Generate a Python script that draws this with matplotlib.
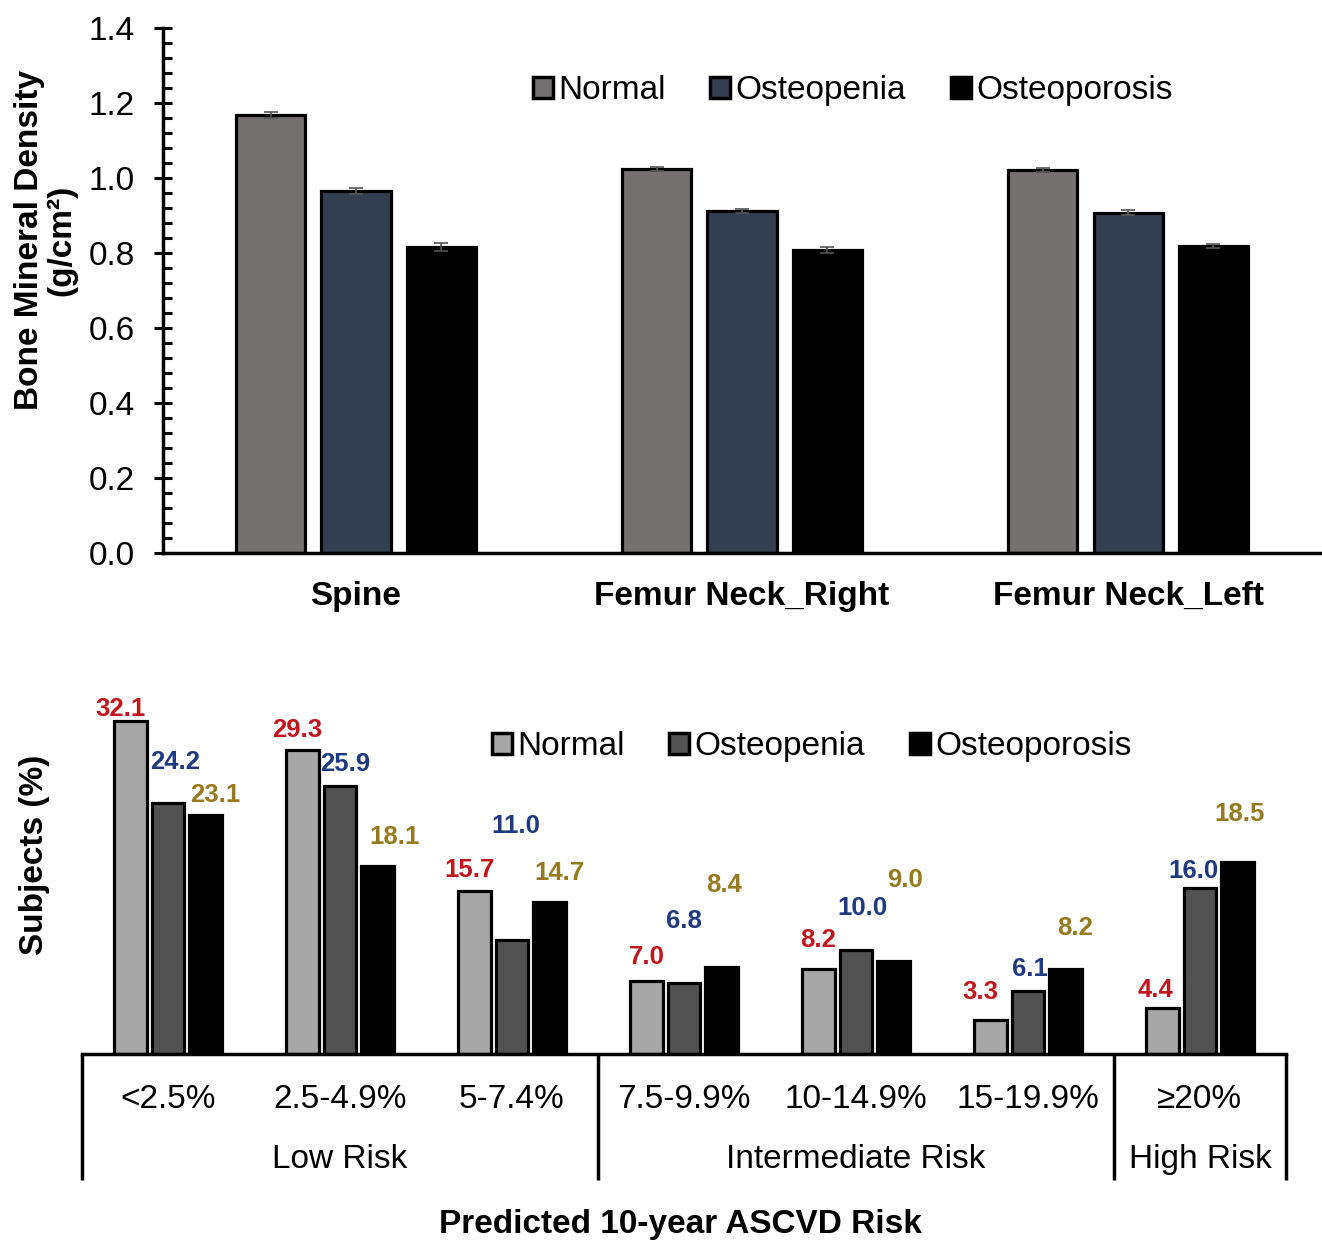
import numpy as np
import matplotlib.pyplot as plt
from matplotlib.patches import Patch
from matplotlib.ticker import MultipleLocator
import matplotlib.transforms as mtrans

plt.rcParams['font.family'] = ['Liberation Sans', 'DejaVu Sans']

# ---- top panel data: bone mineral density ----
sites = ['Spine', 'Femur Neck_Right', 'Femur Neck_Left']
groups = ['Normal', 'Osteopenia', 'Osteoporosis']
bmd_normal = [1.168, 1.024, 1.021]
bmd_osteopenia = [0.965, 0.912, 0.907]
bmd_osteoporosis = [0.816, 0.808, 0.818]
bmd_err_normal = [0.007, 0.006, 0.006]
bmd_err_osteopenia = [0.007, 0.006, 0.007]
bmd_err_osteoporosis = [0.010, 0.007, 0.006]

# ---- bottom panel data: ASCVD risk distribution ----
risk_bins = ['<2.5%', '2.5-4.9%', '5-7.4%', '7.5-9.9%', '10-14.9%', '15-19.9%', '\u226520%']
risk_cats = ['Low Risk', 'Intermediate Risk', 'High Risk']
risk_cat_span = [(0, 2), (3, 5), (6, 6)]
pct_normal = [32.1, 29.3, 15.7, 7.0, 8.2, 3.3, 4.4]
pct_osteopenia = [24.2, 25.9, 11.0, 6.8, 10.0, 6.1, 16.0]
pct_osteoporosis = [23.1, 18.1, 14.7, 8.4, 9.0, 8.2, 18.5]

# hand placed value labels (x shift from bar centre, label height in %)
lab_dx_normal = [-0.06, -0.03, -0.03, 0.0, 0.0, -0.06, -0.04]
lab_dx_osteopenia = [0.04, 0.03, 0.02, 0.0, 0.035, 0.01, -0.04]
lab_dx_osteoporosis = [0.055, 0.10, 0.06, 0.015, 0.07, 0.055, 0.015]
lab_y_normal = [33.3, 31.3, 17.8, 9.4, 11.0, 6.0, 6.2]
lab_y_osteopenia = [28.2, 28.0, 22.0, 12.8, 14.1, 8.2, 17.7]
lab_y_osteoporosis = [25.0, 20.9, 17.5, 16.3, 16.8, 12.2, 23.2]

top_colors = ['#767171', '#333F50', '#000000']
bot_colors = ['#A6A6A6', '#525252', '#000000']
lab_colors = ['#C0161E', '#1F3A80', '#977A1E']

fig = plt.figure(figsize=(13.22, 12.43), dpi=100)

# ================= top panel =================
ax1 = fig.add_axes([0.1233, 0.5551, 0.876, 0.4224])
x = np.arange(len(sites))
w = 0.179
step = 0.221
top_vals = [bmd_normal, bmd_osteopenia, bmd_osteoporosis]
top_errs = [bmd_err_normal, bmd_err_osteopenia, bmd_err_osteoporosis]
for k in range(3):
    ax1.bar(x + (k - 1) * step, top_vals[k], w, color=top_colors[k],
            edgecolor='black', linewidth=2.3, yerr=top_errs[k],
            error_kw=dict(ecolor='#555555', elinewidth=1.2, capsize=5, capthick=1.2),
            zorder=2)

ax1.set_xlim(-0.5, 2.5)
ax1.set_ylim(0, 1.4)
ax1.yaxis.set_major_locator(MultipleLocator(0.2))
ax1.yaxis.set_minor_locator(MultipleLocator(0.04))
ax1.yaxis.set_major_formatter(plt.FuncFormatter(lambda v, p: f'{v:.1f}'))
for s in ['top', 'right']:
    ax1.spines[s].set_visible(False)
for s in ['left', 'bottom']:
    ax1.spines[s].set_linewidth(2.5)
ax1.tick_params(axis='y', which='major', direction='inout', length=13, width=2.2,
                labelsize=24, pad=14)
ax1.tick_params(axis='y', which='minor', direction='in', length=6.5, width=2.2)
ax1.set_xticks(x)
ax1.set_xticklabels(sites, fontsize=24, fontweight='bold')
ax1.tick_params(axis='x', length=0, pad=20)

fig.text(46 / 1322, 0.807, 'Bone Mineral Density\n(g/cm\u00b2)', rotation=90,
         ha='center', va='center', multialignment='center', fontsize=24,
         fontweight='bold', linespacing=1.05)

h1 = [Patch(facecolor=c, edgecolor='black', linewidth=2.5) for c in top_colors]
fig.legend(h1, groups, loc='center', bbox_to_anchor=(0.645, 0.927), ncol=3,
           frameon=False, fontsize=24, handlelength=0.6, handleheight=0.6,
           handletextpad=0.15, columnspacing=1.35)

# ================= bottom panel =================
ax2 = fig.add_axes([0.062, 0.1521, 0.9107, 0.3009])
xb = np.arange(len(risk_bins))
wb = 0.19
stepb = 0.218
bot_vals = [pct_normal, pct_osteopenia, pct_osteoporosis]
lab_dx = [lab_dx_normal, lab_dx_osteopenia, lab_dx_osteoporosis]
lab_y = [lab_y_normal, lab_y_osteopenia, lab_y_osteoporosis]
for k in range(3):
    xs = xb + (k - 1) * stepb
    ax2.bar(xs, bot_vals[k], wb, color=bot_colors[k], edgecolor='black',
            linewidth=2.3, zorder=2)
    for i, v in enumerate(bot_vals[k]):
        ax2.text(xs[i] + lab_dx[k][i], lab_y[k][i], f'{v:.1f}', ha='center',
                 va='center', fontsize=18.5, fontweight='bold', color=lab_colors[k])

ax2.set_xlim(-0.5, 6.5)
ax2.set_ylim(0, 36.1)
for s in ['top', 'right', 'left']:
    ax2.spines[s].set_visible(False)
ax2.spines['bottom'].set_linewidth(2.5)
ax2.set_yticks([])
ax2.set_xticks(xb)
ax2.set_xticklabels(risk_bins, fontsize=24)
ax2.tick_params(axis='x', length=0, pad=22)

trans = mtrans.blended_transform_factory(ax2.transData, ax2.transAxes)
seps = [-0.5, 2.5, 5.5, 6.5]
for sx in seps:
    ax2.plot([sx, sx], [0, -0.337], transform=trans, color='black', lw=2.5,
             clip_on=False, solid_capstyle='butt')
for name, (a, b) in zip(risk_cats, risk_cat_span):
    ax2.text((a + b) / 2, -0.281, name, transform=trans, ha='center',
             va='center', fontsize=24)

fig.text(35 / 1322, 0.312, 'Subjects (%)', rotation=90, ha='center',
         va='center', fontsize=24, fontweight='bold')
fig.text(680 / 1322, 0.0145, 'Predicted 10-year ASCVD Risk', ha='center',
         va='center', fontsize=24, fontweight='bold')

h2 = [Patch(facecolor=c, edgecolor='black', linewidth=2.5) for c in bot_colors]
fig.legend(h2, groups, loc='center', bbox_to_anchor=(0.614, 0.3995), ncol=3,
           frameon=False, fontsize=24, handlelength=0.6, handleheight=0.6,
           handletextpad=0.15, columnspacing=1.35)

fig.savefig('out.png', dpi=100)
